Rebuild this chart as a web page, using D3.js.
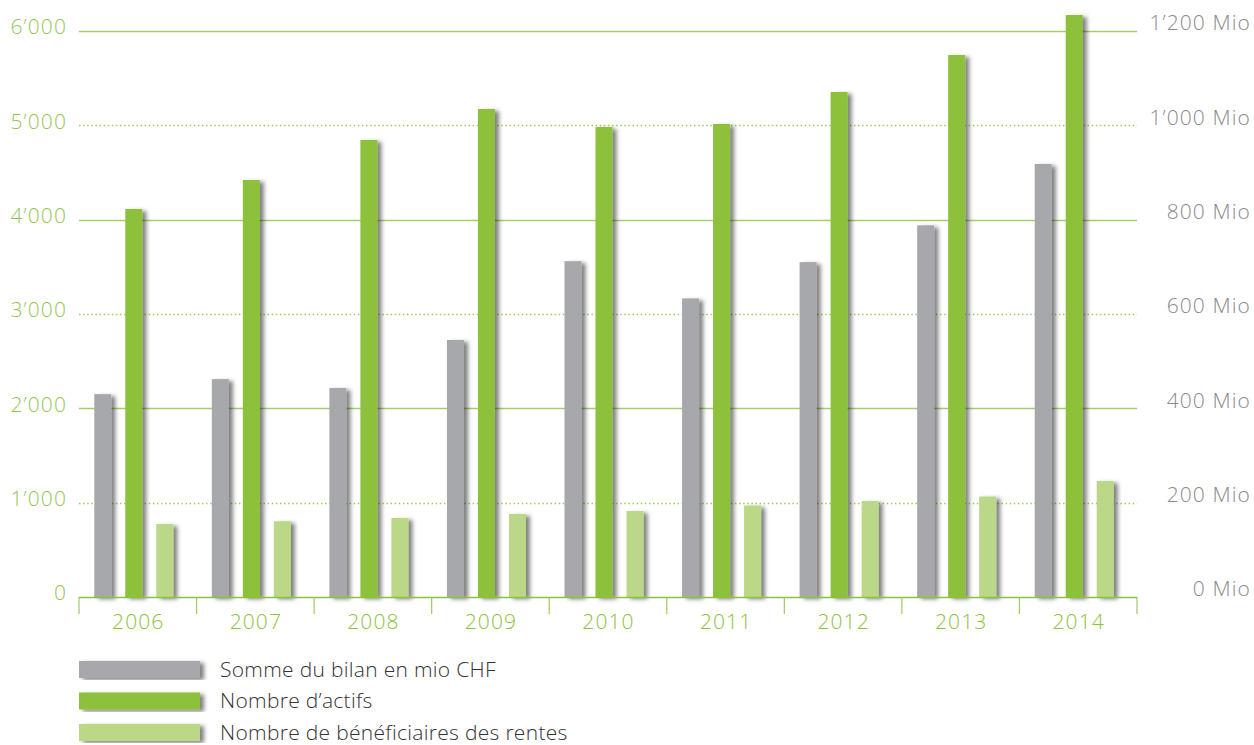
<!DOCTYPE html>
<html>
<head>
<meta charset="utf-8">
<script src="https://cdnjs.cloudflare.com/ajax/libs/d3/7.8.5/d3.min.js"></script>
<style>
  body { margin: 0; background: #fff; }
  svg text { font-family: "Open Sans", Roboto, sans-serif; font-weight: 300; font-size: 21px; }
  .num { letter-spacing: 1.1px; }
  .leg { letter-spacing: 0.3px; }
</style>
</head>
<body>
<div class="chart"></div>
<script>
var years = ['2006', '2007', '2008', '2009', '2010', '2011', '2012', '2013', '2014'];
// right axis, Mio CHF
var bilan = [430, 462, 443, 545, 712, 633, 710, 788, 918];
// left axis
var actifs = [4113, 4421, 4845, 5173, 4983, 5014, 5354, 5746, 6170];
var rentiers = [774, 803, 838, 880, 912, 970, 1018, 1065, 1230];
var leftTicks = [0, 1000, 2000, 3000, 4000, 5000, 6000];
var rightTicks = [0, 200, 400, 600, 800, 1000, 1200];
var seriesNames = ['Somme du bilan en mio CHF', 'Nombre d\u2019actifs', 'Nombre de b\u00e9n\u00e9ficiaires des rentes'];
var seriesColors = ['#a7a8ac', '#8dc13b', '#bad888'];

var width = 1254, height = 745,
    margin = { top: 31, right: 117, bottom: 148, left: 79 };

var locale = d3.formatLocale({ decimal: '.', thousands: '\u2019', grouping: [3], currency: ['', ''] }),
    fmt = locale.format(',d');

var svg = d3.select('.chart').append('svg')
    .attr('width', width)
    .attr('height', height);

var defs = svg.append('defs');
var shadow = defs.append('filter')
    .attr('id', 'shadow')
    .attr('x', '-50%').attr('y', '-10%')
    .attr('width', '200%').attr('height', '120%');
shadow.append('feDropShadow')
    .attr('dx', 4).attr('dy', 2)
    .attr('stdDeviation', 2.2)
    .attr('flood-color', '#000')
    .attr('flood-opacity', 0.5);

var x0 = d3.scaleBand()
    .domain(years)
    .range([margin.left, width - margin.right]);

var x1 = d3.scalePoint()
    .domain([0, 1, 2])
    .range([-35, 27]);

var yL = d3.scaleLinear().domain([0, 6000]).range([height - margin.bottom, margin.top]);
var yR = d3.scaleLinear().domain([0, 1200]).range(yL.range());

var barW = 17;

// grid
svg.append('g').attr('class', 'grid')
  .selectAll('line')
    .data(leftTicks.filter(function(d){ return d > 0; }))
  .enter().append('line')
    .attr('x1', margin.left)
    .attr('x2', width - margin.right)
    .attr('y1', function(d){ return Math.round(yL(d)) + 0.5; })
    .attr('y2', function(d){ return Math.round(yL(d)) + 0.5; })
    .attr('stroke', function(d){ return d % 2000 === 0 ? '#a3cf68' : '#9ccb5c'; })
    .attr('stroke-width', function(d){ return d % 2000 === 0 ? 1.3 : 1.5; })
    .attr('stroke-dasharray', function(d){ return d % 2000 === 0 ? null : '1.5,2.6'; });

// left axis labels
svg.append('g')
  .selectAll('text')
    .data(leftTicks)
  .enter().append('text')
    .attr('class', 'num')
    .attr('x', 67)
    .attr('y', function(d){ return yL(d) - 4; })
    .attr('dy', '0.35em')
    .attr('text-anchor', 'end')
    .attr('fill', '#94c654')
    .text(function(d){ return fmt(d); });

// right axis labels
svg.append('g')
  .selectAll('text')
    .data(rightTicks)
  .enter().append('text')
    .attr('class', 'num')
    .attr('x', 1251)
    .attr('y', function(d){ return yR(d) - 8; })
    .attr('dy', '0.35em')
    .attr('text-anchor', 'end')
    .attr('fill', '#8a8a8c')
    .text(function(d){ return fmt(d) + ' Mio'; });

// bars
var rows = years.map(function(y, i){
  return [
    { year: y, s: 0, y: yR(bilan[i]) },
    { year: y, s: 1, y: yL(actifs[i]) },
    { year: y, s: 2, y: yL(rentiers[i]) }
  ];
});

var base = yL(0);

svg.append('g').attr('class', 'bars')
  .selectAll('g')
    .data(rows)
  .enter().append('g')
    .attr('transform', function(d){ return 'translate(' + (x0(d[0].year) + x0.bandwidth() / 2) + ',0)'; })
  .selectAll('rect')
    .data(function(d){ return d; })
  .enter().append('rect')
    .attr('x', function(d){ return x1(d.s) - barW / 2; })
    .attr('width', barW)
    .attr('y', function(d){ return d.y; })
    .attr('height', function(d){ return base - d.y; })
    .attr('fill', function(d){ return seriesColors[d.s]; })
    .attr('filter', 'url(#shadow)');

// x axis
var xAxis = svg.append('g');
xAxis.append('line')
    .attr('x1', margin.left).attr('x2', width - margin.right)
    .attr('y1', base + 0.5).attr('y2', base + 0.5)
    .attr('stroke', '#8dc13b').attr('stroke-width', 1.6);
xAxis.selectAll('.tick')
    .data(d3.range(years.length + 1))
  .enter().append('line')
    .attr('x1', function(i){ return margin.left + i * x0.step(); })
    .attr('x2', function(i){ return margin.left + i * x0.step(); })
    .attr('y1', base).attr('y2', base + 17)
    .attr('stroke', '#9ccb5c').attr('stroke-width', 1.2);
xAxis.selectAll('text')
    .data(years)
  .enter().append('text')
    .attr('class', 'num')
    .attr('x', function(d){ return x0(d) + x0.bandwidth() / 2 + 0.5; })
    .attr('y', base + 25)
    .attr('dy', '0.35em')
    .attr('text-anchor', 'middle')
    .attr('fill', '#8dc13b')
    .text(function(d){ return d; });

// legend
var legend = svg.append('g')
  .selectAll('g')
    .data(seriesNames)
  .enter().append('g')
    .attr('transform', function(d, i){ return 'translate(79,' + (661 + i * 31.5) + ')'; });
legend.append('rect')
    .attr('width', 121).attr('height', 17)
    .attr('fill', function(d, i){ return seriesColors[i]; })
    .attr('filter', 'url(#shadow)');
legend.append('text')
    .attr('class', 'leg')
    .attr('x', 141).attr('y', 8.5)
    .attr('dy', '0.35em')
    .attr('fill', '#333')
    .text(function(d){ return d; });
</script>
</body>
</html>
